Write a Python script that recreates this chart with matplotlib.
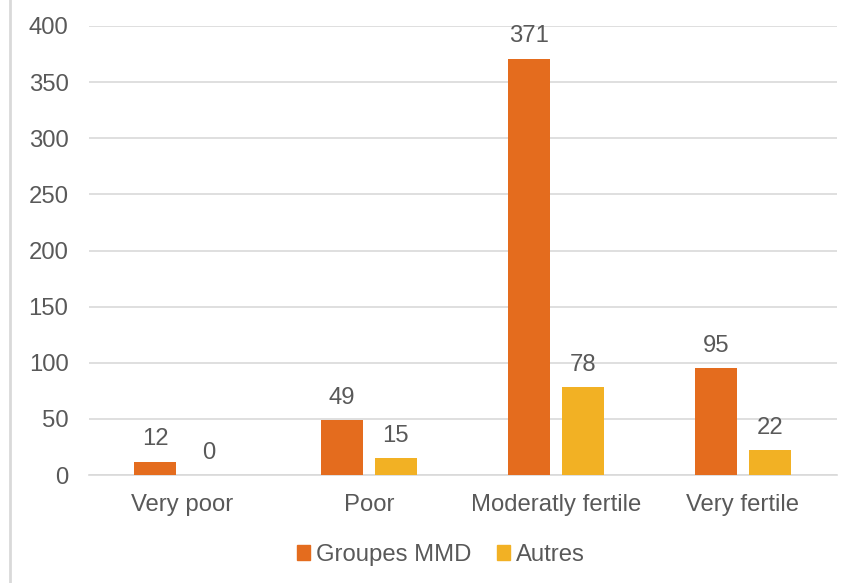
import matplotlib
matplotlib.use("Agg")
import matplotlib.pyplot as plt
from matplotlib.lines import Line2D
from matplotlib.patches import Patch
import numpy as np

categories = ["Very poor", "Poor", "Moderatly fertile", "Very fertile"]
series_names = ["Groupes MMD", "Autres"]
mmd = [12, 49, 371, 95]
autres = [0, 15, 78, 22]
yticks = [0, 50, 100, 150, 200, 250, 300, 350, 400]

c_mmd = "#E46C1E"
c_aut = "#F2B124"
txt = "#595959"
grid = "#D9D9D9"

plt.rcParams['font.family'] = ['Liberation Sans', 'DejaVu Sans']
fs = 17.2

fig = plt.figure(figsize=(8.57, 5.83), dpi=100)
ax = fig.add_axes([88.5/857, 1-475/583, 748/857, 449/583])

x = np.arange(len(categories))
w = 0.225
off = 0.144
b1 = ax.bar(x - off, mmd, w, color=c_mmd, zorder=3)
b2 = ax.bar(x + off, autres, w, color=c_aut, zorder=3)

for bars, vals in ((b1, mmd), (b2, autres)):
    for r, v in zip(bars, vals):
        ax.annotate(str(v), (r.get_x() + r.get_width()/2, v), xytext=(0, 8),
                    textcoords="offset points", ha="center", va="bottom",
                    fontsize=fs, color=txt)

ax.set_xlim(-0.5, len(categories) - 0.5)
ax.set_ylim(0, 400)
ax.set_yticks(yticks)
ax.set_yticklabels([str(t) for t in yticks])
ax.set_xticks(x)
ax.set_xticklabels(categories)
ax.tick_params(axis='y', length=0, pad=14.4, labelsize=fs, labelcolor=txt)
ax.tick_params(axis='x', length=0, pad=13.5, labelsize=fs, labelcolor=txt)
ax.yaxis.grid(True, color=grid, linewidth=1.2, zorder=0)
for s in ("top", "right", "left"):
    ax.spines[s].set_visible(False)
ax.spines["bottom"].set_color(grid)
ax.spines["bottom"].set_linewidth(1.2)
ax.set_axisbelow(True)

handles = [Patch(color=c_mmd, label=series_names[0]), Patch(color=c_aut, label=series_names[1])]
leg = fig.legend(handles=handles, loc="center", bbox_to_anchor=(441/857, 1-555/583),
                 ncol=2, frameon=False, fontsize=fs, handlelength=0.55, handleheight=0.55,
                 handletextpad=0.25, columnspacing=1.05, labelcolor=txt)

fig.add_artist(Line2D([10/857, 10/857], [0, 1], color=grid, linewidth=2, transform=fig.transFigure))

fig.savefig("out.png", dpi=100)
